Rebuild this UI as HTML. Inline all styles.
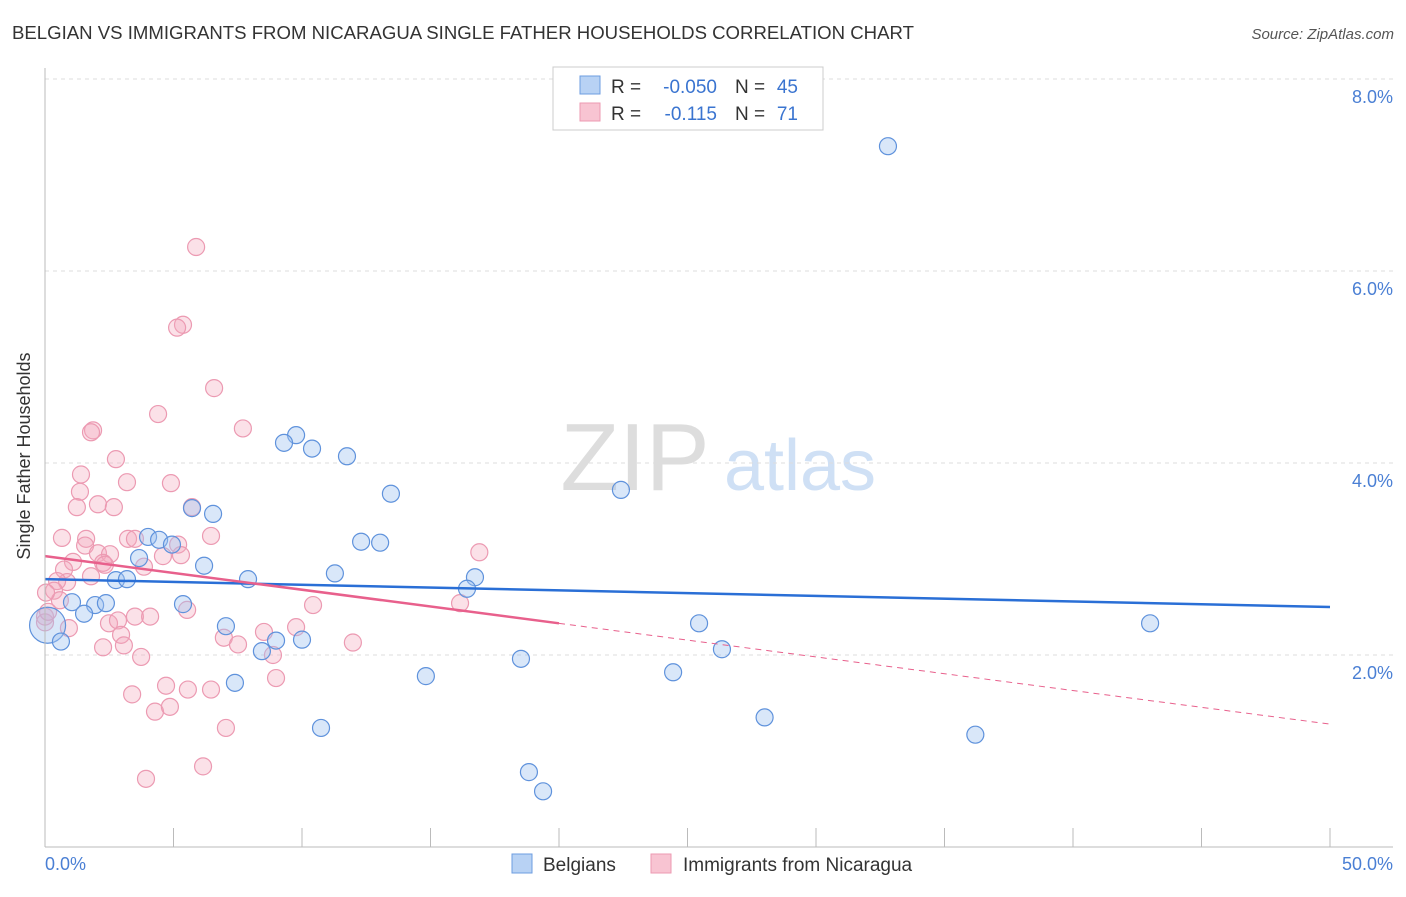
<!DOCTYPE html>
<html><head><meta charset="utf-8"><style>
body{margin:0;background:#fff;font-family:"Liberation Sans",sans-serif;}
svg text{font-family:"Liberation Sans",sans-serif;}
</style></head><body>
<svg id="chart" width="1406" height="892">
<text x="12" y="39" font-size="18.6" fill="#333">BELGIAN VS IMMIGRANTS FROM NICARAGUA SINGLE FATHER HOUSEHOLDS CORRELATION CHART</text>
<text x="1394" y="39" font-size="15" fill="#555" font-style="italic" text-anchor="end">Source: ZipAtlas.com</text>
<text x="30" y="456" font-size="18" fill="#333" text-anchor="middle" transform="rotate(-90 30 456)">Single Father Households</text>
<g><text x="635" y="490" font-size="96" fill="#ddd" font-family="Liberation Serif" text-anchor="middle">ZIP</text><text x="800" y="490" font-size="72" fill="#cfe0f5" text-anchor="middle">atlas</text></g>
<g id="grid"></g><g id="marks"></g>
<line x1="45" y1="68" x2="45" y2="847" stroke="#bbb"/>
<line x1="45" y1="847" x2="1393" y2="847" stroke="#bbb"/>
<text x="45" y="870" font-size="18" fill="#4a7fd4">0.0%</text>
<text x="1393" y="870" font-size="18" fill="#4a7fd4" text-anchor="end">50.0%</text>
<g>
<rect x="553" y="67" width="270" height="63" fill="#fff" stroke="#ccc"/>
<rect x="580" y="76" width="20" height="18" fill="#b8d2f4" stroke="#6d9de0"/>
<rect x="580" y="103" width="20" height="18" fill="#f8c4d2" stroke="#ec9ab2"/>
<text x="611" y="93" font-size="19" fill="#333">R =</text>
<text x="717" y="93" font-size="19" fill="#3a74d0" text-anchor="end">-0.050</text>
<text x="735" y="93" font-size="19" fill="#333">N =</text>
<text x="798" y="93" font-size="19" fill="#3a74d0" text-anchor="end">45</text>
<text x="611" y="120" font-size="19" fill="#333">R =</text>
<text x="717" y="120" font-size="19" fill="#3a74d0" text-anchor="end">-0.115</text>
<text x="735" y="120" font-size="19" fill="#333">N =</text>
<text x="798" y="120" font-size="19" fill="#3a74d0" text-anchor="end">71</text>
</g>
<g>
<rect x="512" y="854" width="20" height="19" fill="#b8d2f4" stroke="#6d9de0"/>
<text x="543" y="871" font-size="19" fill="#333">Belgians</text>
<rect x="651" y="854" width="20" height="19" fill="#f8c4d2" stroke="#ec9ab2"/>
<text x="683" y="871" font-size="19" fill="#333">Immigrants from Nicaragua</text>
</g>
</svg>
<script>
const yTicks=[2,4,6,8];
const yTickLabels=["2.0%","4.0%","6.0%","8.0%"];
const xTicks=[0,5,10,15,20,25,30,35,40,45,50];
const blueX=[32.8,9.77,9.3,10.39,11.75,13.46,22.41,5.72,6.54,4.01,4.44,12.3,13.04,4.94,3.66,6.19,11.28,16.73,2.76,3.19,7.9,16.42,1.05,1.95,2.37,5.37,1.52,0.1,7.04,25.45,43.0,0.62,8.99,10.0,8.44,26.34,18.52,14.82,24.44,7.39,28.0,10.74,36.2,18.83,19.38];
const blueY=[7.30,4.29,4.21,4.15,4.07,3.68,3.72,3.53,3.47,3.23,3.2,3.18,3.17,3.15,3.01,2.93,2.85,2.81,2.78,2.79,2.79,2.69,2.55,2.52,2.54,2.53,2.43,2.31,2.3,2.33,2.33,2.14,2.15,2.16,2.04,2.06,1.96,1.78,1.82,1.71,1.35,1.24,1.17,0.78,0.58];
const pinkX=[5.88,5.37,5.14,6.58,4.4,7.7,1.87,1.79,2.76,1.4,3.19,4.9,1.36,1.24,2.06,2.68,5.72,6.46,0.66,1.6,3.23,3.5,5.18,1.56,16.9,2.06,2.53,5.29,4.59,1.09,2.26,2.33,3.85,0.74,1.79,0.86,0.47,0.35,0.58,0.04,0.0,5.53,10.43,16.15,3.5,4.09,2.49,2.84,0.93,2.96,6.96,8.52,9.77,2.26,3.07,7.51,11.98,8.87,3.74,8.99,6.46,4.71,3.39,5.56,4.28,4.86,7.04,6.15,3.93,0.0,0.12];
const pinkY=[6.25,5.44,5.41,4.78,4.51,4.36,4.34,4.32,4.04,3.88,3.8,3.79,3.7,3.54,3.57,3.54,3.54,3.24,3.22,3.21,3.21,3.21,3.15,3.14,3.07,3.06,3.05,3.04,3.03,2.97,2.96,2.94,2.92,2.89,2.82,2.76,2.77,2.67,2.57,2.65,2.4,2.47,2.52,2.54,2.4,2.4,2.33,2.36,2.28,2.21,2.18,2.24,2.29,2.08,2.1,2.11,2.13,2.0,1.98,1.76,1.64,1.68,1.59,1.64,1.41,1.46,1.24,0.84,0.71,2.34,2.45];
const blueTrend=[2.79,2.50];
const pinkTrend=[3.03,1.28];
const pinkSolidEnd=20;
const X=v=>45+v/50*1285, Y=v=>847-v*96;
const NS="http://www.w3.org/2000/svg";
const grid=document.getElementById('grid'), marks=document.getElementById('marks');
function mk(tag,at,parent){const e=document.createElementNS(NS,tag);for(const k in at)e.setAttribute(k,at[k]);parent.appendChild(e);return e;}
yTicks.forEach((t,i)=>{
 const l=mk('line',{x1:45,x2:1393,y1:Y(t),y2:Y(t),stroke:'#ddd','stroke-dasharray':'4,4'},grid);
 
 
 const tx=mk('text',{x:1393,y:Y(t)+24,'font-size':18,fill:'#4a7fd4','text-anchor':'end'},grid);
 tx.textContent=yTickLabels[i];
 
 
});
xTicks.forEach(t=>{
 const l=mk('line',{x1:X(t),x2:X(t),y1:828,y2:847,stroke:'#bbb'},grid);
 
 
});
pinkX.forEach((x,i)=>{
 const c=mk('circle',{cx:X(x),cy:Y(pinkY[i]),r:8.5,fill:'rgba(244,168,190,0.35)',stroke:'#ec9ab2','stroke-width':1.2},marks);
 
 
});
blueX.forEach((x,i)=>{
 const c=mk('circle',{cx:X(x),cy:Y(blueY[i]),r:i==27?18:8.5,fill:'rgba(160,196,240,0.4)',stroke:'#5f92dc','stroke-width':1.2},marks);
 
 
});
const bt=mk('line',{x1:X(0),y1:Y(blueTrend[0]),x2:X(50),y2:Y(blueTrend[1]),stroke:'#2a6fd6','stroke-width':2.5},marks);


const pAt=v=>pinkTrend[0]+(pinkTrend[1]-pinkTrend[0])*v/50;
const ps=mk('line',{x1:X(0),y1:Y(pinkTrend[0]),x2:X(pinkSolidEnd),y2:Y(pAt(pinkSolidEnd)),stroke:'#e8608c','stroke-width':2.5},marks);


const pd=mk('line',{x1:X(pinkSolidEnd),y1:Y(pAt(pinkSolidEnd)),x2:X(50),y2:Y(pinkTrend[1]),stroke:'#e8608c','stroke-width':1,'stroke-dasharray':'6,5'},marks);


</script>
</body></html>
